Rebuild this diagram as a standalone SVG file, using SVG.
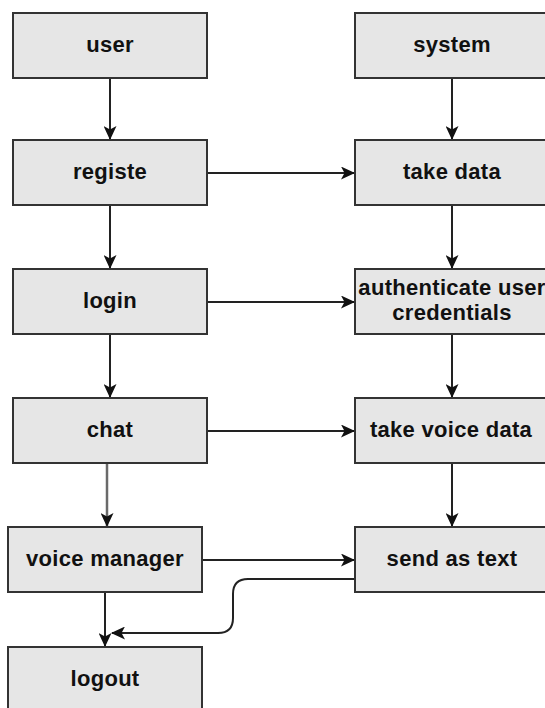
<svg xmlns="http://www.w3.org/2000/svg" width="545" height="708" viewBox="0 0 545 708">
<style>
.box{fill:#e6e6e6;stroke:#333;stroke-width:2}
.t{font-family:"Liberation Sans",Arial,sans-serif;font-weight:bold;font-size:22px;letter-spacing:0.3px;fill:#111;text-anchor:middle}
.c{fill:none;stroke:#222;stroke-width:2}
</style>
<defs>
<marker id="ar" markerWidth="15" markerHeight="13" refX="13" refY="6.5" orient="auto" markerUnits="userSpaceOnUse">
<path d="M0,0 L14,6.5 L0,13 L3.5,6.5 Z" fill="#111"/>
</marker>
</defs>
<rect width="545" height="708" fill="#fff"/>
<g id="connectors">
<path class="c" d="M110,78 L110,139" marker-end="url(#ar)"/>
<path class="c" d="M110,205 L110,268" marker-end="url(#ar)"/>
<path class="c" d="M110,334 L110,397" marker-end="url(#ar)"/>
<path class="c" d="M107,463 L107,526" style="stroke:#6a6a6a;stroke-width:2.5" marker-end="url(#ar)"/>
<path class="c" d="M105,592 L105,646" marker-end="url(#ar)"/>
<path class="c" d="M452,78 L452,139" marker-end="url(#ar)"/>
<path class="c" d="M452,205 L452,268" marker-end="url(#ar)"/>
<path class="c" d="M452,334 L452,397" marker-end="url(#ar)"/>
<path class="c" d="M452,463 L452,526" marker-end="url(#ar)"/>
<path class="c" d="M207,173 L354,173" marker-end="url(#ar)"/>
<path class="c" d="M207,302 L354,302" marker-end="url(#ar)"/>
<path class="c" d="M207,431 L354,431" marker-end="url(#ar)"/>
<path class="c" d="M202,560 L354,560" marker-end="url(#ar)"/>
<path class="c" d="M355,579 L248,579 Q233,579 233,594 L233,618 Q233,633 218,633 L112,633" marker-end="url(#ar)"/>
</g>
<g id="user"><rect class="box" x="13" y="13" width="194" height="65"/><text class="t" x="110" y="52">user</text></g>
<g id="registe"><rect class="box" x="13" y="140" width="194" height="65"/><text class="t" x="110" y="179">registe</text></g>
<g id="login"><rect class="box" x="13" y="269" width="194" height="65"/><text class="t" x="110" y="308">login</text></g>
<g id="chat"><rect class="box" x="13" y="398" width="194" height="65"/><text class="t" x="110" y="437">chat</text></g>
<g id="voice-manager"><rect class="box" x="8" y="527" width="194" height="65"/><text class="t" x="105" y="566">voice manager</text></g>
<g id="logout"><rect class="box" x="8" y="647" width="194" height="65"/><text class="t" x="105" y="686">logout</text></g>
<g id="system"><rect class="box" x="355" y="13" width="194" height="65"/><text class="t" x="452" y="52">system</text></g>
<g id="take-data"><rect class="box" x="355" y="140" width="194" height="65"/><text class="t" x="452" y="179">take data</text></g>
<g id="authenticate"><rect class="box" x="355" y="269" width="194" height="65"/><text class="t" x="452" y="295">authenticate user</text><text class="t" x="452" y="320">credentials</text></g>
<g id="take-voice-data"><rect class="box" x="355" y="398" width="194" height="65"/><text class="t" x="451" y="437">take voice data</text></g>
<g id="send-as-text"><rect class="box" x="355" y="527" width="194" height="65"/><text class="t" x="452" y="566">send as text</text></g>
</svg>
